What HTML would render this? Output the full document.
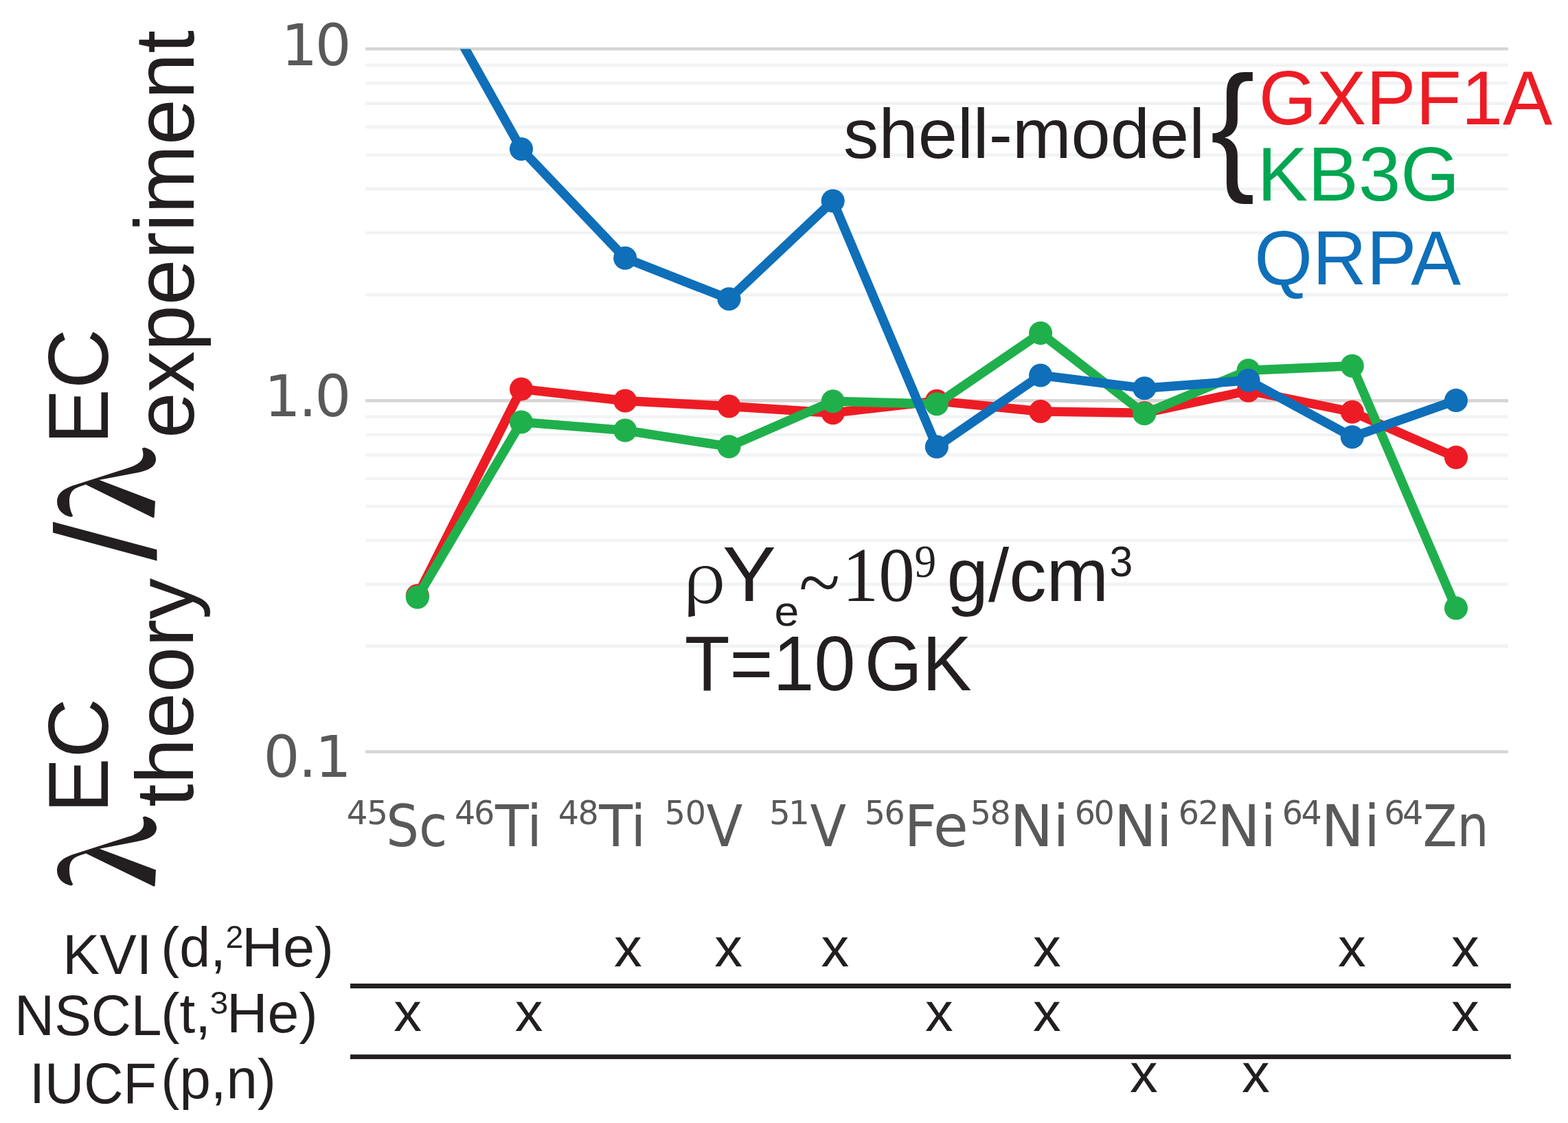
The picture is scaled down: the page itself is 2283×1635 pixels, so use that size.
<!DOCTYPE html>
<html lang="en">
<head>
<meta charset="utf-8">
<title>Electron-capture rates: theory vs experiment</title>
<style>
html,body{margin:0;padding:0;background:#fff;}
body{width:2283px;height:1635px;overflow:hidden;}
svg{display:block;}
svg text{font-size:100px;white-space:pre;}
</style>
</head>
<body>
<svg width="2283" height="1635" viewBox="0 0 2283 1635" role="img" aria-label="Ratio of theoretical to experimental electron-capture rates">
<rect width="2283" height="1635" fill="#fff"/>
<g stroke="#f2f3f5" stroke-width="4.6" fill="none">
<line x1="532.2" y1="429.24" x2="2196.0" y2="429.24"/>
<line x1="532.2" y1="339.07" x2="2196.0" y2="339.07"/>
<line x1="532.2" y1="275.09" x2="2196.0" y2="275.09"/>
<line x1="532.2" y1="225.46" x2="2196.0" y2="225.46"/>
<line x1="532.2" y1="184.91" x2="2196.0" y2="184.91"/>
<line x1="532.2" y1="150.63" x2="2196.0" y2="150.63"/>
<line x1="532.2" y1="120.93" x2="2196.0" y2="120.93"/>
<line x1="532.2" y1="94.73" x2="2196.0" y2="94.73"/>
<line x1="532.2" y1="940.64" x2="2196.0" y2="940.64"/>
<line x1="532.2" y1="850.64" x2="2196.0" y2="850.64"/>
<line x1="532.2" y1="786.79" x2="2196.0" y2="786.79"/>
<line x1="532.2" y1="737.26" x2="2196.0" y2="737.26"/>
<line x1="532.2" y1="696.79" x2="2196.0" y2="696.79"/>
<line x1="532.2" y1="662.57" x2="2196.0" y2="662.57"/>
<line x1="532.2" y1="632.93" x2="2196.0" y2="632.93"/>
<line x1="532.2" y1="606.79" x2="2196.0" y2="606.79"/>
</g>
<g stroke="#d7d6d4" stroke-width="4.6" fill="none">
<line x1="532.2" y1="71.30" x2="2196.0" y2="71.30"/>
<line x1="532.2" y1="583.40" x2="2196.0" y2="583.40"/>
<line x1="532.2" y1="1094.50" x2="2196.0" y2="1094.50"/>
</g>
<clipPath id="plotclip"><rect x="532.2" y="71.3" width="1663.8" height="1083.2"/></clipPath>
<g clip-path="url(#plotclip)">
<g id="s_red" fill="#ed1c24" stroke="none">
<polyline points="607.8,867.2 759.0,566.5 910.2,583.5 1061.5,591.5 1212.7,601.2 1363.9,583.8 1515.1,599.0 1666.3,601.2 1817.6,568.8 1968.8,599.8 2120.0,665.9" fill="none" stroke="#ed1c24" stroke-width="13.4" stroke-linejoin="round" stroke-linecap="butt"/>
<circle cx="607.8" cy="867.2" r="17.05"/>
<circle cx="759.0" cy="566.5" r="17.05"/>
<circle cx="910.2" cy="583.5" r="17.05"/>
<circle cx="1061.5" cy="591.5" r="17.05"/>
<circle cx="1212.7" cy="601.2" r="17.05"/>
<circle cx="1363.9" cy="583.8" r="17.05"/>
<circle cx="1515.1" cy="599.0" r="17.05"/>
<circle cx="1666.3" cy="601.2" r="17.05"/>
<circle cx="1817.6" cy="568.8" r="17.05"/>
<circle cx="1968.8" cy="599.8" r="17.05"/>
<circle cx="2120.0" cy="665.9" r="17.05"/>
</g>
<g id="s_grn" fill="#1fb04c" stroke="none">
<polyline points="607.8,869.5 759.0,614.5 910.2,626.6 1061.5,650.2 1212.7,584.2 1363.9,588.2 1515.1,485.0 1666.3,602.2 1817.6,539.2 1968.8,532.8 2120.0,885.4" fill="none" stroke="#1fb04c" stroke-width="13.4" stroke-linejoin="round" stroke-linecap="butt"/>
<circle cx="607.8" cy="869.5" r="17.05"/>
<circle cx="759.0" cy="614.5" r="17.05"/>
<circle cx="910.2" cy="626.6" r="17.05"/>
<circle cx="1061.5" cy="650.2" r="17.05"/>
<circle cx="1212.7" cy="584.2" r="17.05"/>
<circle cx="1363.9" cy="588.2" r="17.05"/>
<circle cx="1515.1" cy="485.0" r="17.05"/>
<circle cx="1666.3" cy="602.2" r="17.05"/>
<circle cx="1817.6" cy="539.2" r="17.05"/>
<circle cx="1968.8" cy="532.8" r="17.05"/>
<circle cx="2120.0" cy="885.4" r="17.05"/>
</g>
<g id="s_blu" fill="#0f6fb9" stroke="none">
<polyline points="607.8,-53.0 759.0,217.0 910.2,375.8 1061.5,435.3 1212.7,292.6 1363.9,650.5 1515.1,546.5 1666.3,565.3 1817.6,553.8 1968.8,636.2 2120.0,582.9" fill="none" stroke="#0f6fb9" stroke-width="13.4" stroke-linejoin="round" stroke-linecap="butt"/>
<circle cx="759.0" cy="217.0" r="17.05"/>
<circle cx="910.2" cy="375.8" r="17.05"/>
<circle cx="1061.5" cy="435.3" r="17.05"/>
<circle cx="1212.7" cy="292.6" r="17.05"/>
<circle cx="1363.9" cy="650.5" r="17.05"/>
<circle cx="1515.1" cy="546.5" r="17.05"/>
<circle cx="1666.3" cy="565.3" r="17.05"/>
<circle cx="1817.6" cy="553.8" r="17.05"/>
<circle cx="1968.8" cy="636.2" r="17.05"/>
<circle cx="2120.0" cy="582.9" r="17.05"/>
</g>
</g>
<g stroke="#231f20" stroke-width="6.8"><line x1="510" y1="1435.5" x2="2199.8" y2="1435.5"/><line x1="510" y1="1538.7" x2="2199.8" y2="1538.7"/></g>
<text id="t10" transform="translate(409.49 95.20) scale(0.8286 0.8286)" font-family='"DejaVu Sans", "Liberation Sans", sans-serif' fill="#595959" letter-spacing="-4.19">10</text>
<text id="t1" transform="translate(384.63 605.79) scale(0.8339 0.8339)" font-family='"DejaVu Sans", "Liberation Sans", sans-serif' fill="#595959" letter-spacing="-3.51">1.0</text>
<text id="t01" transform="translate(383.45 1130.79) scale(0.8326 0.8326)" font-family='"DejaVu Sans", "Liberation Sans", sans-serif' fill="#595959" letter-spacing="-2.44">0.1</text>
<text id="xs0" transform="translate(504.78 1199.75) scale(0.4843 0.4843)" font-family='"DejaVu Sans", "Liberation Sans", sans-serif' fill="#595959" letter-spacing="-2.87">45</text>
<text id="xe0" transform="translate(562.29 1231.90) scale(0.8358 0.8342)" font-family='"DejaVu Sans Condensed", "DejaVu Sans", "Liberation Sans", sans-serif' fill="#595959">Sc</text>
<text id="xs1" transform="translate(662.02 1199.77) scale(0.4758 0.4758)" font-family='"DejaVu Sans", "Liberation Sans", sans-serif' fill="#595959" letter-spacing="-4.81">46</text>
<text id="xe1" transform="translate(721.00 1231.90) scale(0.8869 0.8342)" font-family='"DejaVu Sans Condensed", "DejaVu Sans", "Liberation Sans", sans-serif' fill="#595959">Ti</text>
<text id="xs2" transform="translate(812.82 1199.77) scale(0.4758 0.4758)" font-family='"DejaVu Sans", "Liberation Sans", sans-serif' fill="#595959" letter-spacing="-3.51">48</text>
<text id="xe2" transform="translate(872.30 1231.90) scale(0.8869 0.8342)" font-family='"DejaVu Sans Condensed", "DejaVu Sans", "Liberation Sans", sans-serif' fill="#595959">Ti</text>
<text id="xs3" transform="translate(967.85 1199.77) scale(0.4758 0.4758)" font-family='"DejaVu Sans", "Liberation Sans", sans-serif' fill="#595959" letter-spacing="-0.55">50</text>
<text id="xe3" transform="translate(1028.43 1231.90) scale(0.8583 0.8342)" font-family='"DejaVu Sans Condensed", "DejaVu Sans", "Liberation Sans", sans-serif' fill="#595959">V</text>
<text id="xs4" transform="translate(1119.99 1199.75) scale(0.4843 0.4843)" font-family='"DejaVu Sans", "Liberation Sans", sans-serif' fill="#595959" letter-spacing="-5.65">51</text>
<text id="xe4" transform="translate(1179.43 1231.90) scale(0.8550 0.8342)" font-family='"DejaVu Sans Condensed", "DejaVu Sans", "Liberation Sans", sans-serif' fill="#595959">V</text>
<text id="xs5" transform="translate(1258.85 1199.77) scale(0.4758 0.4758)" font-family='"DejaVu Sans", "Liberation Sans", sans-serif' fill="#595959" letter-spacing="-3.20">56</text>
<text id="xe5" transform="translate(1316.45 1231.90) scale(0.9170 0.8342)" font-family='"DejaVu Sans Condensed", "DejaVu Sans", "Liberation Sans", sans-serif' fill="#595959">Fe</text>
<text id="xs6" transform="translate(1412.85 1199.77) scale(0.4758 0.4758)" font-family='"DejaVu Sans", "Liberation Sans", sans-serif' fill="#595959" letter-spacing="-3.58">58</text>
<text id="xe6" transform="translate(1470.51 1231.90) scale(0.9320 0.8342)" font-family='"DejaVu Sans Condensed", "DejaVu Sans", "Liberation Sans", sans-serif' fill="#595959">Ni</text>
<text id="xs7" transform="translate(1564.77 1199.77) scale(0.4758 0.4758)" font-family='"DejaVu Sans", "Liberation Sans", sans-serif' fill="#595959" letter-spacing="-5.21">60</text>
<text id="xe7" transform="translate(1622.06 1231.90) scale(0.9160 0.8342)" font-family='"DejaVu Sans Condensed", "DejaVu Sans", "Liberation Sans", sans-serif' fill="#595959">Ni</text>
<text id="xs8" transform="translate(1715.87 1199.77) scale(0.4758 0.4758)" font-family='"DejaVu Sans", "Liberation Sans", sans-serif' fill="#595959" letter-spacing="-3.56">62</text>
<text id="xe8" transform="translate(1772.09 1231.90) scale(0.9347 0.8342)" font-family='"DejaVu Sans Condensed", "DejaVu Sans", "Liberation Sans", sans-serif' fill="#595959">Ni</text>
<text id="xs9" transform="translate(1866.67 1199.77) scale(0.4758 0.4758)" font-family='"DejaVu Sans", "Liberation Sans", sans-serif' fill="#595959" letter-spacing="-5.37">64</text>
<text id="xe9" transform="translate(1923.56 1231.90) scale(0.9267 0.8342)" font-family='"DejaVu Sans Condensed", "DejaVu Sans", "Liberation Sans", sans-serif' fill="#595959">Ni</text>
<text id="xs10" transform="translate(2015.27 1199.77) scale(0.4758 0.4758)" font-family='"DejaVu Sans", "Liberation Sans", sans-serif' fill="#595959" letter-spacing="-7.26">64</text>
<text id="xe10" transform="translate(2071.77 1231.90) scale(0.8084 0.8342)" font-family='"DejaVu Sans Condensed", "DejaVu Sans", "Liberation Sans", sans-serif' fill="#595959">Zn</text>
<text id="shell" transform="translate(1228.11 230.38) scale(1.0288 1.0181)" font-family='"Liberation Sans", sans-serif' fill="#231f20">shell-model</text>
<text id="brace" transform="translate(1762.36 254.26) scale(1.9467 2.0679)" font-family='"Liberation Sans", sans-serif' fill="#231f20">{</text>
<text id="gx" transform="translate(1832.78 181.19) scale(1.0836 1.1094)" font-family='"Liberation Sans", sans-serif' fill="#ed1c24">GXPF1A</text>
<text id="kb" transform="translate(1830.60 291.78) scale(1.1044 1.1193)" font-family='"Liberation Sans", sans-serif' fill="#00a651">KB3G</text>
<text id="qr" transform="translate(1826.21 413.80) scale(1.0904 1.1188)" font-family='"Liberation Sans", sans-serif' fill="#0f6fb9">QRPA</text>
<text id="rho" transform="translate(993.71 877.24) scale(1.0426 1.0045)" font-family='"Noto Serif CJK SC", "Liberation Serif", serif' fill="#231f20">ρ</text>
<text id="Y" transform="translate(1051.88 875.30) scale(1.1677 1.1348)" font-family='"Liberation Sans", sans-serif' fill="#231f20">Y</text>
<text id="esub" transform="translate(1127.51 910.89) scale(0.6447 0.6146)" font-family='"Liberation Sans", sans-serif' fill="#231f20">e</text>
<text id="tilde" transform="translate(1163.25 885.65) scale(1.1055 1.1529)" font-family='"Liberation Serif", serif' fill="#231f20">~</text>
<text id="ten" transform="translate(1226.58 875.18) scale(1.0529 1.1153)" font-family='"Liberation Serif", serif' fill="#231f20">10</text>
<text id="nine" transform="translate(1331.49 839.73) scale(0.6328 0.6698)" font-family='"Liberation Serif", serif' fill="#231f20">9</text>
<text id="gcm" transform="translate(1378.48 875.43) scale(1.0882 1.0971)" font-family='"Liberation Sans", sans-serif' fill="#231f20">g/cm</text>
<text id="three" transform="translate(1615.57 839.06) scale(0.6085 0.6368)" font-family='"Liberation Sans", sans-serif' fill="#231f20">3</text>
<text id="T10" transform="translate(996.68 1004.88) scale(1.0788 1.1250)" font-family='"Liberation Sans", sans-serif' fill="#231f20">T=10</text>
<text id="GK" transform="translate(1258.70 1005.17) scale(1.0800 1.1335)" font-family='"Liberation Sans", sans-serif' fill="#231f20">GK</text>
<text id="kvi" transform="translate(91.18 1417.90) scale(0.8067 0.8174)" font-family='"Liberation Sans", sans-serif' fill="#231f20">KVI</text>
<text id="kvi_a" transform="translate(234.28 1406.89) scale(0.8092 0.8132)" font-family='"Liberation Sans", sans-serif' fill="#231f20">(d,</text>
<text id="kvi_s" transform="translate(328.38 1379.50) scale(0.4642 0.4550)" font-family='"Liberation Sans", sans-serif' fill="#231f20">2</text>
<text id="kvi_b" transform="translate(352.09 1406.89) scale(0.8298 0.8132)" font-family='"Liberation Sans", sans-serif' fill="#231f20">He)</text>
<text id="nscl" transform="translate(21.10 1506.67) scale(0.8039 0.8250)" font-family='"Liberation Sans", sans-serif' fill="#231f20">NSCL</text>
<text id="nscl_a" transform="translate(234.22 1503.00) scale(0.8186 0.8079)" font-family='"Liberation Sans", sans-serif' fill="#231f20">(t,</text>
<text id="nscl_s" transform="translate(305.80 1476.14) scale(0.4754 0.4642)" font-family='"Liberation Sans", sans-serif' fill="#231f20">3</text>
<text id="nscl_b" transform="translate(329.93 1503.00) scale(0.8243 0.8079)" font-family='"Liberation Sans", sans-serif' fill="#231f20">He)</text>
<text id="iucf" transform="translate(42.89 1606.37) scale(0.7936 0.8292)" font-family='"Liberation Sans", sans-serif' fill="#231f20">IUCF</text>
<text id="iucf_a" transform="translate(234.23 1599.10) scale(0.8155 0.8079)" font-family='"Liberation Sans", sans-serif' fill="#231f20">(p,n)</text>
<text id="m0" transform="translate(894.11 1407.20) scale(0.8155 0.8000)" font-family='"Liberation Sans", sans-serif' fill="#231f20">x</text>
<text id="m1" transform="translate(1040.31 1407.20) scale(0.8155 0.8000)" font-family='"Liberation Sans", sans-serif' fill="#231f20">x</text>
<text id="m2" transform="translate(1195.51 1407.20) scale(0.8155 0.8000)" font-family='"Liberation Sans", sans-serif' fill="#231f20">x</text>
<text id="m3" transform="translate(1503.91 1407.20) scale(0.8155 0.8000)" font-family='"Liberation Sans", sans-serif' fill="#231f20">x</text>
<text id="m4" transform="translate(1948.11 1407.20) scale(0.8155 0.8000)" font-family='"Liberation Sans", sans-serif' fill="#231f20">x</text>
<text id="m5" transform="translate(2113.01 1407.20) scale(0.8155 0.8000)" font-family='"Liberation Sans", sans-serif' fill="#231f20">x</text>
<text id="m6" transform="translate(573.31 1501.30) scale(0.8155 0.8000)" font-family='"Liberation Sans", sans-serif' fill="#231f20">x</text>
<text id="m7" transform="translate(749.81 1501.30) scale(0.8155 0.8000)" font-family='"Liberation Sans", sans-serif' fill="#231f20">x</text>
<text id="m8" transform="translate(1347.11 1501.30) scale(0.8155 0.8000)" font-family='"Liberation Sans", sans-serif' fill="#231f20">x</text>
<text id="m9" transform="translate(1503.91 1501.30) scale(0.8155 0.8000)" font-family='"Liberation Sans", sans-serif' fill="#231f20">x</text>
<text id="m10" transform="translate(2113.01 1501.30) scale(0.8155 0.8000)" font-family='"Liberation Sans", sans-serif' fill="#231f20">x</text>
<text id="m11" transform="translate(1645.11 1590.40) scale(0.8155 0.8000)" font-family='"Liberation Sans", sans-serif' fill="#231f20">x</text>
<text id="m12" transform="translate(1808.01 1590.40) scale(0.8155 0.8000)" font-family='"Liberation Sans", sans-serif' fill="#231f20">x</text>
<text id="lam1" transform="translate(225.31 1293.92) rotate(-90) scale(1.6605 1.7355)" font-family='"Noto Serif CJK SC", "Liberation Serif", serif' fill="#231f20" font-weight="700">λ</text>
<text id="ec1" transform="translate(156.76 1183.84) rotate(-90) scale(1.2047 1.2439)" font-family='"Liberation Sans", sans-serif' fill="#231f20">EC</text>
<text id="theory" transform="translate(280.90 1174.80) rotate(-90) scale(1.1978 1.1821)" font-family='"Liberation Sans", sans-serif' fill="#231f20">theory</text>
<text id="slash" transform="translate(225.64 816.60) rotate(-90) scale(2.0458 2.0593)" font-family='"Liberation Sans", sans-serif' fill="#231f20">/</text>
<text id="lam2" transform="translate(224.33 757.33) rotate(-90) scale(1.6638 1.7223)" font-family='"Noto Serif CJK SC", "Liberation Serif", serif' fill="#231f20" font-weight="700">λ</text>
<text id="ec2" transform="translate(156.75 647.01) rotate(-90) scale(1.2126 1.2524)" font-family='"Liberation Sans", sans-serif' fill="#231f20">EC</text>
<text id="exper" transform="translate(281.90 637.90) rotate(-90) scale(1.2006 1.2189)" font-family='"Liberation Sans", sans-serif' fill="#231f20">experiment</text>
</svg>
</body>
</html>
